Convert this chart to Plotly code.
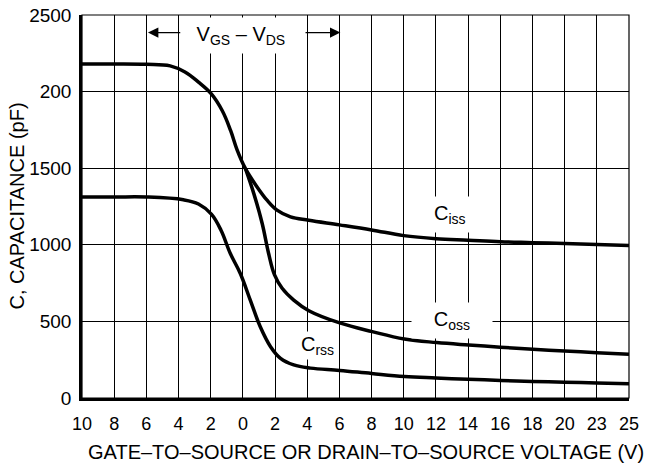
import plotly.graph_objects as go

# X axis: evenly spaced positions carrying these labels (VGS side on the left, VDS side on the right)
x_tick_labels = ["10", "8", "6", "4", "2", "0", "2", "4", "6", "8", "10",
                 "12", "14", "16", "18", "20", "23", "25"]
x_tick_pos = list(range(len(x_tick_labels)))

y_tick_vals = [0, 500, 1000, 1500, 2000, 2500]
y_tick_text = ["0", "500", "1000", "1500", "200", "2500"]

# Curves (position along the axis, capacitance pF)
ciss_x = [0, 1, 2, 2.74, 3.2, 3.62, 4.02, 4.36, 4.62, 4.82, 5.08, 5.44, 5.75,
          6.06, 6.48, 7.05, 8, 9, 10, 11, 12, 13, 14, 15, 16, 17]
ciss_y = [2180, 2180, 2178, 2168, 2128, 2062, 1985, 1875, 1745, 1620, 1497, 1378, 1291,
          1226, 1182, 1160, 1130, 1097, 1060, 1040, 1030, 1020, 1014, 1008, 1002, 995]

coss_x = [5.08, 5.34, 5.6, 5.8, 5.98, 6.22, 6.58, 7.05, 8.01, 9.02, 10.02, 11.02,
          12.02, 13, 14.01, 15, 16, 17]
coss_y = [1497, 1334, 1139, 943, 805, 716, 639, 570, 490, 433, 385, 362,
          346, 332, 318, 307, 296, 286]

crss_x = [0, 1, 2, 3.15, 3.62, 4.02, 4.32, 4.61, 4.92, 5.23, 5.54, 5.86, 6.17, 6.58, 7.1, 8.01,
          9, 10.02, 11, 12, 13.01, 14, 15, 16, 17]
crss_y = [1312, 1312, 1312, 1294, 1266, 1200, 1095, 943, 813, 639, 465, 335, 259, 216, 195, 180,
          160, 141, 131, 122, 115, 108, 103, 98, 93]

FONT = "Liberation Sans, Arial, Helvetica, sans-serif"
FS = 18
FT = 20

fig = go.Figure()
for xs, ys in [(ciss_x, ciss_y), (coss_x, coss_y), (crss_x, crss_y)]:
    fig.add_trace(go.Scatter(x=xs, y=ys, mode="lines",
                             line=dict(color="black", width=3.5, shape="spline", smoothing=1.1),
                             showlegend=False, hoverinfo="skip"))

label_font = dict(family=FONT, size=FT, color="black")
fig.add_annotation(x=11.45, y=1195, text="C<sub>iss</sub>", showarrow=False,
                   font=label_font, bgcolor="white", borderpad=5)
fig.add_annotation(x=11.5, y=505, text="\u00a0\u00a0\u00a0C<sub>oss</sub>\u00a0\u00a0\u00a0", showarrow=False,
                   font=label_font, bgcolor="white", borderpad=5)
fig.add_annotation(x=7.32, y=340, text="C<sub>rss</sub>", showarrow=False,
                   font=label_font, bgcolor="white", borderpad=1)
fig.add_annotation(x=4.94, y=2365, text="\u00a0V<sub>GS</sub> \u2013 V<sub>DS</sub>\u00a0", showarrow=False,
                   font=label_font, bgcolor="white", borderpad=5)
# arrows
fig.add_annotation(x=2.05, y=2385, ax=3.1, ay=2385, xref="x", yref="y", axref="x", ayref="y",
                   text="", showarrow=True, arrowhead=2, arrowsize=1.6, arrowwidth=1.3, arrowcolor="black")
fig.add_annotation(x=8.03, y=2385, ax=6.9, ay=2385, xref="x", yref="y", axref="x", ayref="y",
                   text="", showarrow=True, arrowhead=2, arrowsize=1.6, arrowwidth=1.3, arrowcolor="black")

# axis titles
fig.add_annotation(xref="paper", yref="paper", x=(366 - 82) / (629 - 82), y=-(452 - 398) / (398 - 15),
                   text="GATE\u2013TO\u2013SOURCE OR DRAIN\u2013TO\u2013SOURCE VOLTAGE (V)",
                   showarrow=False, font=label_font, xanchor="center", yanchor="middle")
fig.add_annotation(xref="paper", yref="paper", x=-(82 - 16) / (629 - 82), y=0.5,
                   text="C, CAPACITANCE (pF)", textangle=-90,
                   showarrow=False, font=label_font, xanchor="center", yanchor="middle")

fig.update_xaxes(range=[0, 17], tickmode="array", tickvals=x_tick_pos, ticktext=x_tick_labels,
                 showgrid=True, gridcolor="black", gridwidth=1, zeroline=False,
                 showline=True, linecolor="black", linewidth=2.5, ticks="", ticklen=0,
                 automargin=False, ticklabelstandoff=8,
                 tickfont=dict(family=FONT, size=FS, color="black"))
fig.update_yaxes(range=[0, 2500], tickmode="array", tickvals=y_tick_vals, ticktext=y_tick_text,
                 showgrid=True, gridcolor="black", gridwidth=1, zeroline=False,
                 showline=True, linecolor="black", linewidth=2.5, ticks="", ticklen=0,
                 automargin=False, ticklabelstandoff=4,
                 tickfont=dict(family=FONT, size=FS + 1, color="black"))

fig.add_shape(type="rect", xref="paper", yref="paper", x0=0, y0=0, x1=1, y1=1,
              line=dict(color="black", width=1.2), layer="above")

fig.update_layout(width=650, height=471, margin=dict(l=82, r=21, t=15, b=73),
                  plot_bgcolor="white", paper_bgcolor="white",
                  font=dict(family=FONT, size=FS, color="black"))

fig.write_html("out.html", config={"displayModeBar": False},
               post_script="document.body.style.margin='0';")
